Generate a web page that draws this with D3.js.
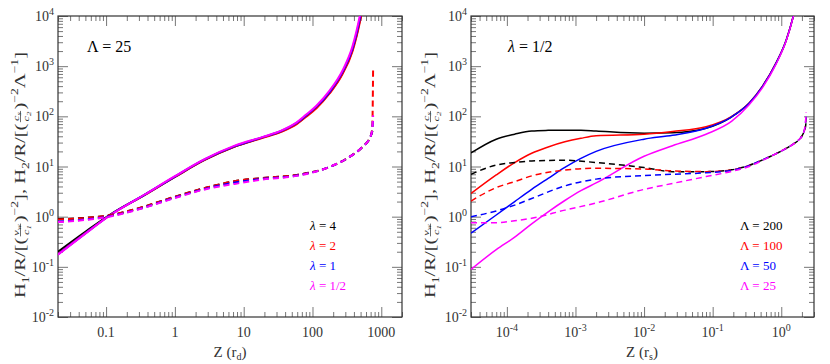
<!DOCTYPE html>
<html>
<head>
<meta charset="utf-8">
<script src="https://cdn.jsdelivr.net/npm/d3@7/dist/d3.min.js"></script>
<style>
body { margin: 0; background: white; }
text { font-family: "Liberation Serif", "DejaVu Serif", serif; }
</style>
</head>
<body>
<svg id="chart" width="830" height="364"></svg>
<script>
// DATA
var colors = ["black", "red", "blue", "magenta"];

// Left panel (Lambda = 25), one curve per lambda
var leftNames = ["4", "2", "1", "1/2"];
var leftSolidZ = [0.02, 0.05, 0.115, 0.37, 1, 2.7, 7.4, 19, 35, 59, 80, 114, 177, 272, 380, 500, 600];
var leftSolid = [
    [0.2, 0.5, 1.1, 2.75, 6.2, 13.5, 25, 38, 50, 72, 100, 150, 295, 720, 2080, 9500, 40000],
    [0.18, 0.47, 1.08, 2.75, 6.2, 13.5, 25, 37.5, 49, 70, 97, 145, 285, 690, 1950, 8800, 35000],
    [0.178, 0.465, 1.08, 2.77, 6.3, 13.8, 25.5, 38.5, 51, 74, 103, 156, 305, 760, 2200, 10500, 45000],
    [0.175, 0.46, 1.07, 2.8, 6.4, 14, 26, 39, 52, 76, 107, 163, 325, 810, 2450, 12000, 50000]
];
var leftDashZ = [0.02, 0.05, 0.115, 0.3, 1, 3, 7.4, 19, 59, 177, 344, 530, 700, 740, 760];
var leftDash = [
    [0.9, 0.95, 1.07, 1.48, 2.5, 3.85, 5.1, 5.9, 6.8, 9.8, 15.5, 24.5, 40, 50, 60],
    [0.88, 0.94, 1.07, 1.48, 2.5, 3.85, 5.1, 5.9, 6.8, 9.8, 15.5, 24.5, 40, 60, 830],
    [0.8, 0.88, 1.03, 1.42, 2.4, 3.7, 4.8, 5.7, 6.6, 9.8, 15.5, 24.5, 40, 55, 100],
    [0.78, 0.86, 1.01, 1.4, 2.35, 3.6, 4.5, 5.5, 6.5, 9.8, 15.5, 24.5, 40, 55, 105]
];

// Right panel (lambda = 1/2), one curve per Lambda
var rightNames = ["200", "100", "50", "25"];
var rightSolidZ = [3e-5, 7e-5, 1.3e-4, 2.3e-4, 4e-4, 7e-4, 1.2e-3, 2e-3, 1e-2, 2.6e-2, 8e-2, 0.19, 0.34, 0.53, 0.84, 1.18, 1.5, 1.8];
var rightSolid = [
    [18.6, 35, 44, 51, 52.5, 53, 53, 51, 46, 47, 58, 98, 182, 390, 1150, 3300, 10000, 30000],
    [2.9, 6.8, 12, 18.4, 24.5, 31, 36.5, 41, 44, 50, 62, 100, 185, 395, 1160, 3300, 10000, 30000],
    [0.47, 1.08, 2.0, 3.5, 5.8, 9.6, 14.5, 20, 35, 42, 58, 98, 182, 390, 1150, 3300, 10000, 30000],
    [0.089, 0.22, 0.39, 0.72, 1.25, 2.1, 3.3, 4.7, 16, 26, 44, 80, 170, 370, 1100, 3200, 9800, 29000]
];
var rightDashZ = [3e-5, 7e-5, 1.3e-4, 2.3e-4, 7e-4, 2e-3, 1e-2, 2.6e-2, 8e-2, 0.19, 0.34, 0.53, 0.84, 1.18, 1.5, 1.8, 2.1, 2.25, 2.3];
var rightDash = [
    [7, 10.7, 12, 12.9, 13.3, 12, 9.5, 7.9, 7.9, 8.6, 10.5, 13.5, 18, 23, 28, 34, 46, 60, 80],
    [2.05, 3.8, 5.0, 6.5, 8.5, 9.2, 8.9, 8.2, 7.9, 8.6, 10.5, 13.5, 18, 23, 28, 34, 46, 65, 95],
    [1.0, 1.3, 1.7, 2.3, 4.1, 5.6, 6.6, 7.0, 7.5, 8.4, 10.4, 13.5, 18, 23, 28, 34, 46, 70, 100],
    [0.76, 0.76, 0.83, 0.93, 1.35, 1.87, 3.5, 4.6, 6.3, 8.0, 10, 13.2, 18, 23, 28, 34, 46, 75, 120]
];

// Tick labels
var yTickExp = [-2, -1, 0, 1, 2, 3, 4];
var leftXTicks = [0.1, 1, 10, 100, 1000];
var leftXLabels = ["0.1", "1", "10", "100", "1000"];
var rightXTickExp = [-4, -3, -2, -1, 0];


// LAYOUT
var svg = d3.select("#chart");
var plotTop = 16, plotBottom = 317;

var y = d3.scaleLog().domain([1e-2, 1e4]).range([plotBottom, plotTop]);
var leftX = d3.scaleLog().domain([0.02, 2000]).range([58, 402]);
var rightX = d3.scaleLog().domain([3e-5, 3]).range([471, 814]);

function isMajor(v) {
    var l = Math.log10(v);
    return Math.abs(l - Math.round(l)) < 1e-6;
}

function drawAxes(x, id) {
    var x0 = x.range()[0], x1 = x.range()[1];
    var xMajor = x.ticks().filter(isMajor);
    var xMinor = x.ticks().filter(v => !isMajor(v));
    var yMajor = y.ticks().filter(isMajor);
    var yMinor = y.ticks().filter(v => !isMajor(v));

    var axes = [
        [d3.axisTop(x), "translate(0," + plotBottom + ")", xMajor, xMinor],
        [d3.axisBottom(x), "translate(0," + plotTop + ")", xMajor, xMinor],
        [d3.axisRight(y), "translate(" + x0 + ",0)", yMajor, yMinor],
        [d3.axisLeft(y), "translate(" + x1 + ",0)", yMajor, yMinor]
    ];
    axes.forEach(function(a) {
        var g1 = svg.append("g").attr("transform", a[1]).attr("color", "#777")
            .call(a[0].tickValues(a[2]).tickSize(10).tickFormat(""));
        g1.select(".domain").remove();
        var g2 = svg.append("g").attr("transform", a[1]).attr("color", "#777")
            .call(a[0].tickValues(a[3]).tickSize(5).tickFormat(""));
        g2.select(".domain").remove();
    });

    // Frame
    svg.append("rect")
        .attr("x", x0).attr("y", plotTop)
        .attr("width", x1 - x0).attr("height", plotBottom - plotTop)
        .attr("fill", "none").attr("stroke", "#333").attr("stroke-width", 1.2);

    // Y tick labels
    yTickExp.forEach(function(e) {
        var t = svg.append("text")
            .attr("x", x0 - 4)
            .attr("y", y(Math.pow(10, e)) + 5)
            .attr("text-anchor", "end")
            .style("font-size", "14px")
            .style("fill", "#333");
        t.append("tspan").text("10");
        t.append("tspan").attr("dy", -6).style("font-size", "10px")
            .text(e < 0 ? "-" + (-e) : String(e));
    });

    // clip
    svg.append("clipPath").attr("id", id)
        .append("rect")
            .attr("x", x0).attr("y", plotTop)
            .attr("width", x1 - x0).attr("height", plotBottom - plotTop);
}

function drawCurves(x, id, zs, sets, dashed, width) {
    var line = d3.line()
        .x(d => x(d[0]))
        .y(d => y(d[1]))
        .curve(d3.curveMonotoneX);
    sets.forEach(function(vals, i) {
        svg.append("path")
            .datum(d3.zip(zs, vals))
            .attr("clip-path", "url(#" + id + ")")
            .attr("fill", "none")
            .attr("stroke", colors[i])
            .attr("stroke-width", width)
            .attr("stroke-dasharray", dashed ? "6,4" : null)
            .attr("d", line);
    });
}

// Y axis label with stacked little fractions
function drawYLabel(cx, cy, len) {
    var g = svg.append("g").attr("transform", "translate(" + cx + "," + cy + ") rotate(-90)");
    var inner = g.append("g");
    var pos = 0;

    function piece(str, size, dy, italic) {
        var t = inner.append("text").attr("x", pos).attr("y", dy)
            .style("font-size", size + "px").text(str);
        if (italic) t.style("font-style", "italic");
        pos += t.node().getComputedTextLength();
    }
    function part(yy, a, b) {
        var t = inner.append("text").attr("y", yy).style("font-size", "9px");
        t.append("tspan").style("font-style", "italic").text(a);
        t.append("tspan").attr("dy", 2).style("font-size", "6.5px").style("font-style", "italic").text(b);
        return t;
    }
    function frac(a, b, c, d) {
        pos += 1;
        var n = part(-6, a, b);
        var m = part(4, c, d);
        var nw = n.node().getComputedTextLength();
        var mw = m.node().getComputedTextLength();
        var w = Math.max(nw, mw) + 1;
        n.attr("x", pos + (w - nw) / 2);
        m.attr("x", pos + (w - mw) / 2);
        inner.append("line")
            .attr("x1", pos).attr("x2", pos + w)
            .attr("y1", -4.5).attr("y2", -4.5)
            .attr("stroke", "#333").attr("stroke-width", 0.6);
        pos += w + 1;
    }

    piece("H", 15, 0);
    piece("1", 10, 4);
    piece("/R/[(", 15, 0);
    frac("v", "w", "c", "1");
    piece(")", 15, 0);
    piece("−2", 10, -7);
    piece("], H", 15, 0);
    piece("2", 10, 4);
    piece("/R/[(", 15, 0);
    frac("c", "s", "c", "2");
    piece(")", 15, 0);
    piece("−2", 10, -7);
    piece("Λ", 15, 0);
    piece("−1", 10, -7);
    piece("]", 15, 0);

    var sx = len / pos;
    inner.attr("transform", "scale(" + sx + ",1) translate(" + (-pos / 2) + ",0)");
    inner.selectAll("text").style("fill", "#333");
}

function drawXLabel(cx, sub) {
    var t = svg.append("text")
        .attr("x", cx).attr("y", 357)
        .attr("text-anchor", "middle")
        .style("font-size", "15px")
        .style("fill", "#333");
    t.append("tspan").text("Z (r");
    t.append("tspan").attr("dy", 3).style("font-size", "10px").text(sub);
    t.append("tspan").attr("dy", -3).text(")");
}

function drawLegend(x0, sym, italic, names) {
    names.forEach(function(n, i) {
        var t = svg.append("text")
            .attr("x", x0).attr("y", 230 + i * 20)
            .style("font-size", "13px")
            .style("fill", colors[i]);
        t.append("tspan").style("font-style", italic ? "italic" : "normal").text(sym);
        t.append("tspan").text(" = " + n);
    });
}


// LEFT PANEL
drawAxes(leftX, "clipL");
drawCurves(leftX, "clipL", leftSolidZ, leftSolid, false, 2);
drawCurves(leftX, "clipL", leftDashZ, leftDash, true, 2);

leftXTicks.forEach(function(v, i) {
    svg.append("text")
        .attr("x", leftX(v)).attr("y", 337)
        .attr("text-anchor", "middle")
        .style("font-size", "14px")
        .style("fill", "#333")
        .text(leftXLabels[i]);
});
drawXLabel(230, "d");
drawYLabel(25, 175, 246);

var ann1 = svg.append("text").attr("x", 87).attr("y", 52).style("font-size", "16px");
ann1.append("tspan").text("Λ = 25");
drawLegend(310, "λ", true, leftNames);


// RIGHT PANEL
drawAxes(rightX, "clipR");
drawCurves(rightX, "clipR", rightSolidZ, rightSolid, false, 1.5);
drawCurves(rightX, "clipR", rightDashZ, rightDash, true, 1.5);

rightXTickExp.forEach(function(e) {
    var t = svg.append("text")
        .attr("x", rightX(Math.pow(10, e))).attr("y", 337)
        .attr("text-anchor", "middle")
        .style("font-size", "14px")
        .style("fill", "#333");
    t.append("tspan").text("10");
    t.append("tspan").attr("dy", -6).style("font-size", "10px")
        .text(e < 0 ? "-" + (-e) : String(e));
});
drawXLabel(642, "s");
drawYLabel(435, 175, 246);

var ann2 = svg.append("text").attr("x", 508).attr("y", 52).style("font-size", "16px");
ann2.append("tspan").style("font-style", "italic").text("λ");
ann2.append("tspan").text(" = 1/2");
drawLegend(740, "Λ", false, rightNames);
</script>
</body>
</html>
